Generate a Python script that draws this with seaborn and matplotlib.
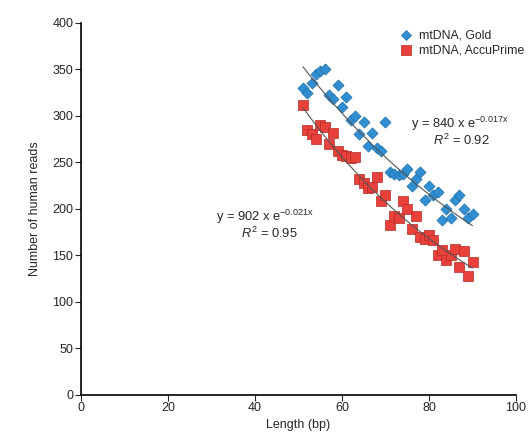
import numpy as np
import pandas as pd
import matplotlib
matplotlib.use("Agg")
import matplotlib.pyplot as plt
import seaborn as sns

# ---- data ----
length_bp = list(range(51, 91))
gold_reads = [330, 325, 335, 345, 348, 350, 322, 318, 333, 310,
              320, 296, 300, 280, 293, 268, 282, 265, 262, 293,
              240, 238, 236, 238, 243, 225, 232, 240, 210, 225,
              215, 218, 188, 200, 190, 210, 215, 200, 190, 195]
accu_reads = [312, 285, 280, 275, 290, 288, 270, 282, 262, 258,
              257, 255, 256, 232, 228, 222, 223, 234, 208, 215,
              183, 192, 190, 208, 200, 178, 192, 170, 168, 172,
              166, 150, 156, 145, 150, 157, 138, 155, 128, 143]
series_names = ["mtDNA, Gold", "mtDNA, AccuPrime"]
fit_a = [840, 902]
fit_b = [-0.017, -0.021]
fit_r2 = [0.92, 0.95]
x_ticks = [0, 20, 40, 60, 80, 100]
y_ticks = [0, 50, 100, 150, 200, 250, 300, 350, 400]

df = pd.DataFrame({
    "Length": length_bp * 2,
    "Reads": gold_reads + accu_reads,
    "Series": [series_names[0]] * len(length_bp) + [series_names[1]] * len(length_bp),
})

sns.set_style("white")
plt.rcParams["font.family"] = ["Liberation Sans", "DejaVu Sans"]
plt.rcParams["mathtext.fontset"] = "custom"
plt.rcParams["mathtext.rm"] = "Liberation Sans"
plt.rcParams["mathtext.it"] = "Liberation Sans:italic"

fig = plt.figure(figsize=(5.32, 4.32), dpi=100)
ax = fig.add_axes([0.152, 0.086, 0.818, 0.861])

colors = {series_names[0]: "#2f8fd2", series_names[1]: "#e8403a"}
edges = {series_names[0]: "#1f6fa8", series_names[1]: "#b52a25"}
markers = {series_names[0]: "D", series_names[1]: "s"}
sizes = {series_names[0]: 32, series_names[1]: 55}

for name in series_names:
    sub = df[df["Series"] == name]
    sns.scatterplot(data=sub, x="Length", y="Reads", ax=ax, marker=markers[name],
                    color=colors[name], edgecolor=edges[name], linewidth=0.5,
                    s=sizes[name], label=name, zorder=3)

# exponential trend lines
xx = np.linspace(min(length_bp), max(length_bp), 200)
for a, b in zip(fit_a, fit_b):
    ax.plot(xx, a * np.exp(b * xx), color="#555555", lw=0.8, zorder=4)

ax.text(87, 291, r"y = 840 x e$^{\mathrm{-0.017x}}$", ha="center", va="center", fontsize=9.3)
ax.text(87.5, 274, r"$R^2$ = 0.92", ha="center", va="center", fontsize=9.3)
ax.text(42.3, 191, r"y = 902 x e$^{\mathrm{-0.021x}}$", ha="center", va="center", fontsize=9.3)
ax.text(43.4, 174, r"$R^2$ = 0.95", ha="center", va="center", fontsize=9.3)

ax.set_xlim(0, 100)
ax.set_ylim(0, 400)
ax.set_xticks(x_ticks)
ax.set_yticks(y_ticks)
ax.set_xlabel("Length (bp)", fontsize=9, labelpad=3)
ax.set_ylabel("Number of human reads", fontsize=9, labelpad=8)
ax.tick_params(axis="both", labelsize=9, length=4, width=0.8, direction="out",
               left=True, bottom=True, pad=1.5)
for s in ["top", "right"]:
    ax.spines[s].set_visible(False)
for s in ["left", "bottom"]:
    ax.spines[s].set_color("black")
    ax.spines[s].set_linewidth(1.2)

leg = ax.legend(loc="upper right", bbox_to_anchor=(1.03, 0.995), frameon=False,
                fontsize=8.8, handletextpad=0.1, labelspacing=0.25, markerscale=0.9,
                borderaxespad=0)

fig.savefig("out.png", dpi=100, facecolor="white")
